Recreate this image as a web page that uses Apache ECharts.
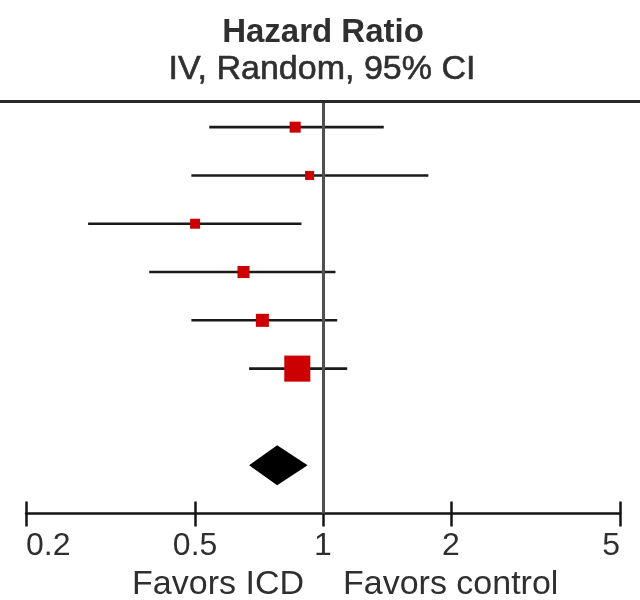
<!DOCTYPE html>
<html>
<head>
<meta charset="utf-8">
<script src="https://cdn.jsdelivr.net/npm/echarts@6/dist/echarts.min.js"></script>
<style>
  html, body { margin: 0; padding: 0; background: #ffffff; }
  #chart { width: 640px; height: 600px; }
</style>
</head>
<body>
<div id="chart"></div>
<script>
// Study-level hazard ratios with 95% confidence limits (top to bottom)
const studyHR = [0.86, 0.93, 0.50, 0.65, 0.72, 0.87];
const studyLow = [0.54, 0.49, 0.28, 0.39, 0.49, 0.67];
const studyHigh = [1.39, 1.77, 0.89, 1.07, 1.08, 1.14];
// Random-effects weights (%)
const studyWeight = [9.4, 6.3, 7.7, 11.2, 13.1, 52.4];
// Pooled estimate
const pooledHR = 0.78;
const pooledLow = 0.67;
const pooledHigh = 0.92;
// Axis ticks
const tickValues = [0.2, 0.5, 1, 2, 5];
const tickLabels = ['0.2', '0.5', '1', '2', '5'];

const lg = Math.log10;
const FONT = '"Liberation Sans", Arial, sans-serif';
const TEXT = '#2f2f2f';
const pooledRow = studyHR.length + 1;

const tickPos = tickValues.map(lg);
const labelFor = v => {
  const i = tickPos.findIndex(t => Math.abs(t - v) < 1e-6);
  return i >= 0 ? tickLabels[i] : '';
};

const gridBox = { left: 26, right: 20, top: 103, bottom: 86.5, outerBoundsMode: 'none' };

const chart = echarts.init(document.getElementById('chart'), null, { renderer: 'canvas' });

const xBase = {
  type: 'value',
  min: lg(tickValues[0]),
  max: lg(tickValues[tickValues.length - 1]),
  position: 'bottom',
  splitLine: { show: false }
};

chart.setOption({
  animation: false,
  backgroundColor: '#ffffff',
  grid: [Object.assign({}, gridBox), Object.assign({}, gridBox)],
  xAxis: [
    Object.assign({}, xBase, {
      gridIndex: 0,
      axisLine: { show: true, onZero: false, lineStyle: { color: '#151515', width: 2.5 } },
      axisTick: { show: true, customValues: tickPos, inside: false, length: 13,
                  lineStyle: { color: '#151515', width: 2.5 } },
      axisLabel: {
        show: true, customValues: tickPos, formatter: labelFor, margin: 17,
        alignMinLabel: 'left', alignMaxLabel: 'right',
        fontFamily: FONT, fontSize: 32, color: TEXT
      }
    }),
    // companion axis carrying the upward half of each tick
    Object.assign({}, xBase, {
      gridIndex: 1,
      axisLine: { show: false, onZero: false },
      axisTick: { show: true, customValues: tickPos, inside: true, length: 12,
                  lineStyle: { color: '#151515', width: 2.5 } },
      axisLabel: { show: false }
    })
  ],
  yAxis: [
    { type: 'value', gridIndex: 0, inverse: true, min: -0.5, max: 8, show: false },
    { type: 'value', gridIndex: 1, inverse: true, min: -0.5, max: 8, show: false }
  ],
  graphic: [
    { type: 'line', shape: { x1: 0, y1: 101.5, x2: 640, y2: 101.5 },
      style: { stroke: '#2a2a2a', lineWidth: 3 }, z: 10 },
    { type: 'text', x: 323, y: 33,
      style: { text: 'Hazard Ratio', font: 'bold 33px ' + FONT, fill: TEXT,
               textAlign: 'center', textVerticalAlign: 'middle' } },
    { type: 'text', x: 322, y: 70,
      style: { text: 'IV, Random, 95% CI', font: '34px ' + FONT, fill: TEXT,
               stroke: TEXT, lineWidth: 0.6,
               textAlign: 'center', textVerticalAlign: 'middle' } },
    { type: 'text', x: 304, y: 585,
      style: { text: 'Favors ICD', font: '34px ' + FONT, fill: TEXT,
               textAlign: 'right', textVerticalAlign: 'middle' } },
    { type: 'text', x: 343, y: 585,
      style: { text: 'Favors control', font: '34px ' + FONT, fill: TEXT,
               textAlign: 'left', textVerticalAlign: 'middle' } }
  ],
  series: [
    {
      // confidence-interval whiskers
      type: 'custom',
      xAxisIndex: 0, yAxisIndex: 0,
      silent: true,
      encode: { x: [1, 2], y: 0 },
      data: studyHR.map((_, i) => [i, lg(studyLow[i]), lg(studyHigh[i])]),
      renderItem: (params, api) => {
        const a = api.coord([api.value(1), api.value(0)]);
        const b = api.coord([api.value(2), api.value(0)]);
        return {
          type: 'line',
          shape: { x1: a[0], y1: a[1], x2: b[0], y2: b[1] },
          style: { stroke: '#1a1a1a', lineWidth: 2.6 }
        };
      },
      z: 3
    },
    {
      // point estimates, box area proportional to weight
      type: 'scatter',
      xAxisIndex: 0, yAxisIndex: 0,
      silent: true,
      symbol: 'rect',
      symbolSize: v => 3.6 * Math.sqrt(v[2]),
      itemStyle: { color: '#cc0000', opacity: 1 },
      data: studyHR.map((hr, i) => [lg(hr), i, studyWeight[i]]),
      markLine: {
        silent: true,
        symbol: ['none', 'none'],
        label: { show: false },
        lineStyle: { color: '#505050', width: 3, type: 'solid', opacity: 1 },
        data: [{ xAxis: lg(1) }]
      },
      z: 4
    },
    {
      // pooled diamond
      type: 'custom',
      xAxisIndex: 0, yAxisIndex: 0,
      silent: true,
      encode: { x: [1, 2, 3], y: 0 },
      data: [[pooledRow, lg(pooledLow), lg(pooledHR), lg(pooledHigh)]],
      renderItem: (params, api) => {
        const y = api.value(0);
        const l = api.coord([api.value(1), y]);
        const c = api.coord([api.value(2), y]);
        const r = api.coord([api.value(3), y]);
        const h = 20;
        return {
          type: 'polygon',
          shape: { points: [[l[0], l[1]], [c[0], c[1] - h], [r[0], r[1]], [c[0], c[1] + h]] },
          style: { fill: '#000000' }
        };
      },
      z: 4
    }
  ]
});
</script>
</body>
</html>
